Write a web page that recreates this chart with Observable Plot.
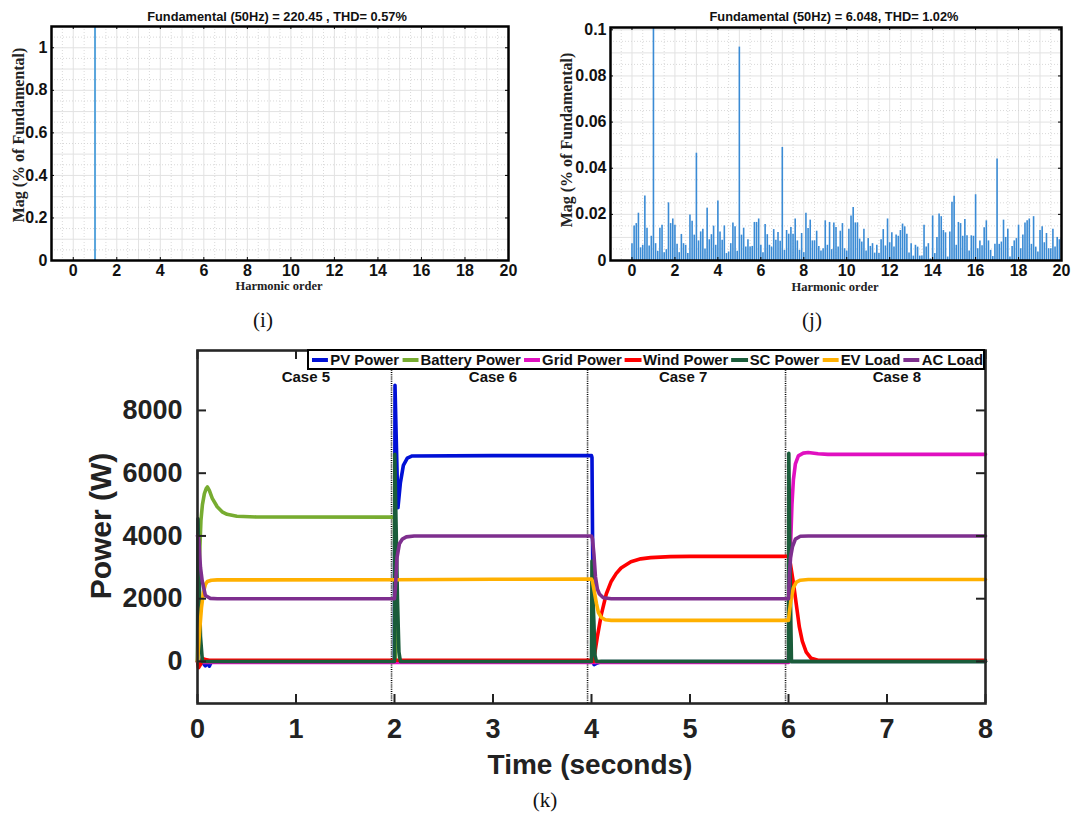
<!DOCTYPE html>
<html><head><meta charset="utf-8">
<script src="https://cdn.jsdelivr.net/npm/d3@7"></script>
<script src="https://cdn.jsdelivr.net/npm/@observablehq/plot@0.6"></script>
<style>
body{margin:0;background:#fff;}
#page{position:relative;width:1078px;height:816px;overflow:hidden;background:#fff;font-family:"Liberation Sans",Arial,sans-serif;}
.abs{position:absolute;white-space:nowrap;}
.title{font-weight:bold;font-size:12.8px;transform:translate(-50%,-50%);color:#111;}
.cap{font-family:"Liberation Serif","Times New Roman",serif;font-size:21px;transform:translate(-50%,-50%);color:#111;}
.serifb{font-family:"Liberation Serif","Times New Roman",serif;font-weight:bold;color:#222;}
.big{font-weight:bold;color:#222;}
#legend{position:absolute;left:307px;top:349px;width:674px;height:17px;border:2px solid #000;background:#fff;overflow:hidden;}
#legInner{display:flex;align-items:center;height:17px;transform-origin:0 50%;font-weight:bold;font-size:15px;white-space:nowrap;font-family:"Liberation Sans Narrow","Arial Narrow","Liberation Sans",Arial,sans-serif;color:#111;}
.sw{display:inline-block;width:22px;height:4px;margin:0 2px 0 3px;}
</style></head><body>
<div id="page"></div>
<script>
// ---------- (i) harmonic spectrum ----------
const iHarmonicOrder = [1];
const iMagnitude = [100]; // fundamental = 100 % (clipped at axis top)
const iXTicks = [0,2,4,6,8,10,12,14,16,18,20];
const iYTicks = [0,0.2,0.4,0.6,0.8,1];
const iYTickLabels = ["0","0.2","0.4","0.6","0.8","1"];

// ---------- (j) harmonic spectrum ----------
const jHarmonicOrder = [0,0.1,0.2,0.3,0.4,0.5,0.6,0.7,0.8,0.9,1,1.1,1.2,1.3,1.4,1.5,1.6,1.7,1.8,1.9,2,2.1,2.2,2.3,2.4,2.5,2.6,2.7,2.8,2.9,3,3.1,3.2,3.3,3.4,3.5,3.6,3.7,3.8,3.9,4,4.1,4.2,4.3,4.4,4.5,4.6,4.7,4.8,4.9,5,5.1,5.2,5.3,5.4,5.5,5.6,5.7,5.8,5.9,6,6.1,6.2,6.3,6.4,6.5,6.6,6.7,6.8,6.9,7,7.1,7.2,7.3,7.4,7.5,7.6,7.7,7.8,7.9,8,8.1,8.2,8.3,8.4,8.5,8.6,8.7,8.8,8.9,9,9.1,9.2,9.3,9.4,9.5,9.6,9.7,9.8,9.9,10,10.1,10.2,10.3,10.4,10.5,10.6,10.7,10.8,10.9,11,11.1,11.2,11.3,11.4,11.5,11.6,11.7,11.8,11.9,12,12.1,12.2,12.3,12.4,12.5,12.6,12.7,12.8,12.9,13,13.1,13.2,13.3,13.4,13.5,13.6,13.7,13.8,13.9,14,14.1,14.2,14.3,14.4,14.5,14.6,14.7,14.8,14.9,15,15.1,15.2,15.3,15.4,15.5,15.6,15.7,15.8,15.9,16,16.1,16.2,16.3,16.4,16.5,16.6,16.7,16.8,16.9,17,17.1,17.2,17.3,17.4,17.5,17.6,17.7,17.8,17.9,18,18.1,18.2,18.3,18.4,18.5,18.6,18.7,18.8,18.9,19,19.1,19.2,19.3,19.4,19.5,19.6,19.7,19.8,19.9,20];
const jMagnitude = [
0.0073,0.015,0.016,0.0205,0.0055,0.0066,0.028,0.014,0.0063,0.0105,
100,
0.0073,0.004,0.014,0.0153,0.0034,0.0047,0.025,0.016,0.018,0.0153,0.007,0.0034,0.0113,0.0073,0.0066,0.003,0.0197,0.017,0.011,
0.0465,
0.0085,0.0124,0.0136,0.005,0.0226,0.009,0.0112,0.0149,0.0066,0.0258,0.0124,0.0088,0.015,0.003,0.0037,0.0073,0.0163,0.0146,0.004,
0.0925,
0.011,0.014,0.0058,0.009,0.0058,0.0061,0.0165,0.0165,0.018,0.0066,0.0034,0.0156,0.0112,0.0066,0.0058,0.0134,0.0088,0.0121,0.0083,
0.049,
0.0044,0.013,0.0114,0.0143,0.0114,0.018,0.0085,0.0044,0.0117,0.0034,
0.0205,0.0139,0.0175,0.0085,0.0085,0.0127,0.0061,0.0041,0.0051,0.0172,
0.0066,0.0165,0.0047,0.0163,0.0143,0.0058,0.0127,0.016,0.0051,0.0041,
0.0136,0.0193,0.023,0.0163,0.0163,0.0093,0.008,0.0136,0.0041,0.0095,
0.0061,0.0073,0.0032,0.0066,0.003,0.009,0.0134,0.0063,0.018,0.0077,
0.012,0.0058,0.011,0.0105,0.013,0.0158,0.0146,0.0114,0.0032,0.0073,
0.0019,0.0066,0.0058,0.0019,0.0019,0.0153,0.0058,0.0073,0.0007,0.0193,
0.003,0.01,0.0202,0.019,0.013,0.012,0.0015,0.0124,0.0253,0.0278,
0.0066,0.0165,0.016,0.0105,0.0178,0.0107,0.0041,0.0107,0.0105,0.0285,
0.0051,0.0085,0.0064,0.0142,0.0172,0.0085,0.0044,0.0017,0.007,
0.044,
0.007,0.008,0.0175,0.01,0.0136,0.0015,0.0061,0.0085,0.0095,0.0153,0.0051,0.011,0.0163,0.0172,0.018,0.007,0.019,0.0058,0.0037,0.013,0.0146,0.0077,0.0117,0.0051,0.0051,0.0136,0.0058,0.01,0.009,0.0095];
const jXTicks = [0,2,4,6,8,10,12,14,16,18,20];
const jYTicks = [0,0.02,0.04,0.06,0.08,0.1];
const jYTickLabels = ["0","0.02","0.04","0.06","0.08","0.1"];

// ---------- (k) power flows, [time s, power W] ----------
const seriesNames = ["PV Power","Battery Power","Grid Power","Wind Power","SC Power","EV Load","AC Load"];
const seriesColors = ["#0010d6","#77ac30","#e010c0","#ff0000","#1a5c3a","#ffb000","#7e2f8e"];
const pvPower = [[0,0],[0.05,-20],[0.08,-140],[0.1,-30],[0.12,-150],[0.14,-20],[0.2,0],[2,0],[2.005,8800],[2.02,6800],[2.035,4900],[2.06,5700],[2.09,6250],[2.13,6480],[2.18,6550],[3,6560],[4,6560],[4.005,6500],[4.015,2000],[4.025,-100],[4.05,-60],[4.1,0],[8,0]];
const batteryPower = [[0,0],[0.01,1800],[0.02,3300],[0.035,4500],[0.05,5000],[0.07,5350],[0.09,5520],[0.1,5560],[0.12,5450],[0.15,5200],[0.2,4930],[0.25,4770],[0.3,4690],[0.4,4630],[0.6,4605],[2,4600],[2.01,0],[8,0]];
const gridPower = [[0,-30],[6,-30],[6.01,1500],[6.02,3600],[6.035,5000],[6.05,5800],[6.07,6300],[6.1,6550],[6.15,6640],[6.2,6660],[6.3,6620],[6.4,6600],[8,6600]];
const windPower = [[0,0],[0.01,-200],[0.03,-100],[0.05,100],[0.08,60],[0.12,40],[4,40],[4.02,0],[4.06,800],[4.1,1500],[4.15,2150],[4.2,2550],[4.25,2800],[4.3,2980],[4.4,3180],[4.5,3270],[4.6,3310],[4.8,3340],[5,3350],[6,3350],[6.02,3100],[6.05,2500],[6.08,1800],[6.11,1100],[6.14,650],[6.18,300],[6.23,100],[6.3,40],[8,40]];
const scPower = [[0,0],[0.005,4550],[0.015,3000],[0.03,800],[0.05,0],[2,0],[2.003,6600],[2.015,4500],[2.03,2000],[2.045,300],[2.06,0],[4,0],[4.005,3200],[4.02,1600],[4.035,200],[4.05,0],[6,0],[6.003,6630],[6.015,3000],[6.03,0],[8,0]];
const evLoad = [[0,0],[0.02,900],[0.04,1700],[0.06,2200],[0.08,2450],[0.1,2550],[0.14,2590],[0.2,2600],[2,2605],[3,2620],[4,2630],[4.01,2550],[4.03,2200],[4.05,1850],[4.07,1560],[4.1,1400],[4.14,1330],[4.2,1310],[6,1310],[6.01,1600],[6.025,1950],[6.05,2350],[6.08,2530],[6.12,2590],[6.2,2610],[8,2610]];
const acLoad = [[0,4000],[0.013,3900],[0.03,3000],[0.047,2580],[0.08,2100],[0.13,2010],[0.2,2000],[2,2000],[2.01,2400],[2.025,3300],[2.05,3750],[2.08,3900],[2.12,3970],[2.2,4000],[4,4000],[4.01,3900],[4.025,3400],[4.04,2700],[4.06,2300],[4.08,2150],[4.12,2030],[4.2,2000],[6,2000],[6.01,2800],[6.02,3300],[6.04,3650],[6.07,3900],[6.12,3990],[6.2,4000],[8,4000]];
const caseBoundaries = [1.97,3.96,5.97];
const caseLabels = ["Case 5","Case 6","Case 7","Case 8"];
const caseLabelTimes = [1.1,3.0,4.93,7.1];
const kXTicks = [0,1,2,3,4,5,6,7,8];
const kYTicks = [0,2000,4000,6000,8000];

// ---------------- build ----------------
const page = document.getElementById("page");
function place(el, left, top){ el.style.position="absolute"; el.style.left=left+"px"; el.style.top=top+"px"; page.appendChild(el); }
function div(cls, text, x, y, extra){ const d=document.createElement("div"); d.className="abs "+cls; d.textContent=text; d.style.left=x+"px"; d.style.top=y+"px"; if(extra) Object.assign(d.style, extra); page.appendChild(d); return d; }

const sans = "Liberation Sans, Arial, sans-serif";

function spectrum({orders, mags, color, width, height, mL, mR, mT, mB, yDomain, yTicks, yLabels, yMajor, yMinor, strokeWidth}){
  const innerW = width - mL - mR, innerH = height - mT - mB;
  const data = orders.map((h,i)=>({h, m: mags[i]}));
  return Plot.plot({
    width, height, marginLeft:mL, marginRight:mR, marginTop:mT, marginBottom:mB,
    x:{domain:[-1,20]}, y:{domain:yDomain},
    style:{fontFamily:sans, background:"transparent", overflow:"visible", color:"#111"},
    marks:[
      Plot.gridX(d3.range(-0.5,20,1), {stroke:"#cfcfcf", strokeOpacity:1, strokeDasharray:"1,2", strokeWidth:0.8}),
      Plot.gridX(d3.range(0,20,1), {stroke:"#e2e2e2", strokeOpacity:1, strokeWidth:1}),
      Plot.gridY(yMinor, {stroke:"#cfcfcf", strokeOpacity:1, strokeDasharray:"1,2", strokeWidth:0.8}),
      Plot.gridY(yMajor, {stroke:"#e2e2e2", strokeOpacity:1, strokeWidth:1}),
      Plot.ruleX(data, {x:"h", y1:0, y2:"m", stroke:color, strokeWidth, clip:true}),
      Plot.tickX(iXTicks, {x:d=>d, insetTop:innerH-3, stroke:"#000", strokeWidth:1}),
      Plot.tickX(iXTicks, {x:d=>d, insetBottom:innerH-3, stroke:"#000", strokeWidth:1}),
      Plot.tickY(yTicks, {y:d=>d, insetRight:innerW-3, stroke:"#000", strokeWidth:1}),
      Plot.tickY(yTicks, {y:d=>d, insetLeft:innerW-3, stroke:"#000", strokeWidth:1}),
      Plot.frame({stroke:"#000", strokeWidth:2.5}),
      Plot.axisX(iXTicks, {tickSize:0, tickPadding:4, fontSize:16, fontWeight:"bold", label:null, fill:"#111"}),
      Plot.axisY(yTicks, {tickSize:0, tickPadding:4, fontSize:16, fontWeight:"bold", label:null, fill:"#111", tickFormat:(d,i)=>yLabels[i]})
    ]
  });
}

// (i)
const figI = spectrum({orders:iHarmonicOrder, mags:iMagnitude, color:"#5aa5dc", width:540, height:300, mL:51, mR:32, mT:26, mB:40,
  yDomain:[0,1.1], yTicks:iYTicks, yLabels:iYTickLabels, yMajor:d3.range(0.1,1.1,0.1), yMinor:d3.range(0.05,1.1,0.1), strokeWidth:2});
place(figI, 0, 0);
// (j)
const figJ = spectrum({orders:jHarmonicOrder, mags:jMagnitude, color:"#3a8bd5", width:538, height:300, mL:70, mR:17, mT:27, mB:40,
  yDomain:[0,0.101], yTicks:jYTicks, yLabels:jYTickLabels, yMajor:d3.range(0.01,0.101,0.01), yMinor:d3.range(0.005,0.101,0.01), strokeWidth:1.6});
place(figJ, 540, 0);

div("title","Fundamental (50Hz) = 220.45 , THD= 0.57%", 277, 16);
div("title","Fundamental (50Hz) = 6.048, THD= 1.02%", 834, 16);
div("serifb","Harmonic order", 279, 286, {fontSize:"12.5px", transform:"translate(-50%,-50%)"});
div("serifb","Harmonic order", 835, 287, {fontSize:"12.5px", transform:"translate(-50%,-50%)"});
div("serifb","Mag (% of Fundamental)", 19, 135, {fontSize:"16px", transform:"translate(-50%,-50%) rotate(-90deg)"});
div("serifb","Mag (% of Fundamental)", 567, 140, {fontSize:"16px", transform:"translate(-50%,-50%) rotate(-90deg)"});
div("cap","(i)", 263, 320);
div("cap","(j)", 812, 320);

// (k)
const kSeries = [pvPower, batteryPower, gridPower, windPower, scPower, evLoad, acLoad];
const kRows = [];
kSeries.forEach((s, si)=> s.forEach(([t,p])=> kRows.push({series: seriesNames[si], t, p})));
const kW = 1078, kH = 450, kL = 197, kR = 93, kT = 20, kB = 77;
const kInnerW = kW-kL-kR, kInnerH = kH-kT-kB;
const figK = Plot.plot({
  width:kW, height:kH, marginLeft:kL, marginRight:kR, marginTop:kT, marginBottom:kB,
  x:{domain:[0,8]}, y:{domain:[-1340,9910]},
  color:{domain:seriesNames, range:seriesColors},
  style:{fontFamily:sans, background:"transparent", overflow:"visible", color:"#222"},
  marks:[
    Plot.ruleX(caseBoundaries, {stroke:"#000", strokeWidth:1.6, strokeDasharray:"1,1.2"}),
    Plot.line(kRows, {x:"t", y:"p", z:"series", stroke:"series", strokeWidth:3.6, strokeLinejoin:"round", strokeLinecap:"round"}),
    Plot.text(caseLabels, {x:(d,i)=>caseLabelTimes[i], y:()=>9050, text:d=>d, fontSize:15, fontWeight:"bold", fill:"#111",
      fontFamily:"Liberation Sans Narrow, Arial Narrow, Liberation Sans, Arial, sans-serif"}),
    Plot.tickX(kXTicks, {x:d=>d, insetTop:kInnerH-9, stroke:"#222", strokeWidth:2}),
    Plot.tickX(kXTicks, {x:d=>d, insetBottom:kInnerH-9, stroke:"#222", strokeWidth:2}),
    Plot.tickY(kYTicks, {y:d=>d, insetRight:kInnerW-9, stroke:"#222", strokeWidth:2}),
    Plot.tickY(kYTicks, {y:d=>d, insetLeft:kInnerW-9, stroke:"#222", strokeWidth:2}),
    Plot.frame({stroke:"#262626", strokeWidth:2.6}),
    Plot.axisX(kXTicks, {tickSize:0, tickPadding:15, fontSize:27, fontWeight:"bold", label:null, fill:"#222"}),
    Plot.axisY(kYTicks, {tickSize:0, tickPadding:15, fontSize:27, fontWeight:"bold", label:null, fill:"#222", tickFormat:d=>String(d)})
  ]
});
place(figK, 0, 330);

div("big","Power (W)", 101, 526, {fontSize:"30px", transform:"translate(-50%,-50%) rotate(-90deg)"});
div("big","Time (seconds)", 590, 765, {fontSize:"28px", transform:"translate(-50%,-50%)"});
div("cap","(k)", 545, 800);

// legend
const leg = document.createElement("div"); leg.id="legend";
const inner = document.createElement("div"); inner.id="legInner";
seriesNames.forEach((n,i)=>{
  const sw=document.createElement("span"); sw.className="sw"; sw.style.background=seriesColors[i];
  const tx=document.createElement("span"); tx.textContent=n;
  inner.appendChild(sw); inner.appendChild(tx);
});
leg.appendChild(inner); page.appendChild(leg);
const natural = inner.scrollWidth + 3;
inner.style.width = natural+"px";
inner.style.transform = `scaleX(${674/natural})`;
</script>
</body></html>
